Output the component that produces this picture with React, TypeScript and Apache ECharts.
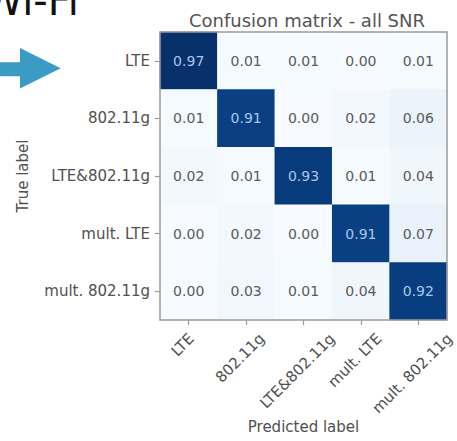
import React, { useEffect, useRef } from "react";
import * as echarts from "echarts";

const categories = ["LTE", "802.11g", "LTE&802.11g", "mult. LTE", "mult. 802.11g"];
const rowLTE = [0.97, 0.01, 0.01, 0.0, 0.01];
const row80211g = [0.01, 0.91, 0.0, 0.02, 0.06];
const rowLTE80211g = [0.02, 0.01, 0.93, 0.01, 0.04];
const rowMultLTE = [0.0, 0.02, 0.0, 0.91, 0.07];
const rowMult80211g = [0.0, 0.03, 0.01, 0.04, 0.92];
const rows = [rowLTE, row80211g, rowLTE80211g, rowMultLTE, rowMult80211g];

const BLUES = ["#f7fbff", "#deebf7", "#c6dbef", "#9ecae1", "#6baed6", "#4292c6", "#2171b5", "#08519c", "#08306b"];
const FONT = "DejaVu Sans";
const LABEL_SIZE = 15;
const TEXT_GRAY = "#505050";

function measure(t: string, size: number): number {
  const ctx = document.createElement("canvas").getContext("2d");
  if (!ctx) return t.length * size * 0.6;
  ctx.font = `${size}px "${FONT}"`;
  return ctx.measureText(t).width;
}

export default function App() {
  const ref = useRef<HTMLDivElement>(null);
  useEffect(() => {
    if (!ref.current) return;
    const chart = echarts.init(ref.current, undefined, { renderer: "svg" });
    const data: number[][] = [];
    rows.forEach((r, yi) => r.forEach((v, xi) => data.push([xi, yi, v])));
    const maxV = Math.max(...data.map((d) => d[2]));

    const rich: Record<string, any> = {};
    categories.forEach((c, i) => {
      const w = measure(c, LABEL_SIZE);
      const q = (w + LABEL_SIZE * 1.15) / 2;
      rich["l" + i] = {
        fontSize: LABEL_SIZE,
        fontFamily: FONT,
        color: TEXT_GRAY,
        padding: [q - 8.5, q + 8.5, 0, 0],
      };
    });

    chart.setOption({
      animation: false,
      backgroundColor: "#ffffff",
      title: {
        text: "Confusion matrix - all SNR",
        left: 302,
        top: 6,
        textAlign: "center",
        textStyle: { fontFamily: FONT, fontSize: 18, fontWeight: "normal", color: "#555" },
      },
      grid: {
        left: 160,
        top: 32,
        right: 10,
        bottom: 121,
        show: true,
        z: 10,
        backgroundColor: "transparent",
        borderColor: "#9a9a9a",
        borderWidth: 1.5,
        outerBoundsMode: "none",
      },
      visualMap: {
        show: false,
        min: 0,
        max: maxV,
        inRange: { color: BLUES },
      },
      xAxis: {
        type: "category",
        data: categories,
        name: "Predicted label",
        nameLocation: "middle",
        nameGap: 99,
        nameMoveOverlap: false,
        nameTextStyle: { fontFamily: FONT, fontSize: LABEL_SIZE, color: TEXT_GRAY },
        axisLine: { show: false },
        axisTick: { show: true, alignWithLabel: true, length: 5, lineStyle: { color: "#9a9a9a", width: 1.2 } },
        splitLine: { show: false },
        axisLabel: {
          interval: 0,
          rotate: 45,
          align: "center",
          verticalAlign: "middle",
          margin: 10,
          formatter: (v: string, i: number) => `{l${i}|${v}}`,
          rich,
        },
      },
      yAxis: {
        type: "category",
        data: categories,
        inverse: true,
        name: "True label",
        nameLocation: "middle",
        nameGap: 130,
        nameMoveOverlap: false,
        nameTextStyle: { fontFamily: FONT, fontSize: LABEL_SIZE, color: TEXT_GRAY },
        axisLine: { show: false },
        axisTick: { show: true, alignWithLabel: true, length: 5, lineStyle: { color: "#9a9a9a", width: 1.2 } },
        splitLine: { show: false },
        axisLabel: {
          interval: 0,
          margin: 10,
          fontFamily: FONT,
          fontSize: LABEL_SIZE,
          color: TEXT_GRAY,
        },
      },
      graphic: [
        {
          type: "text",
          x: -16.5,
          y: 1,
          style: {
            text: "Wi-Fi",
            font: `40px "${FONT}"`,
            fill: "#111111",
            verticalAlign: "middle",
            align: "left",
          },
        },
        {
          type: "polygon",
          shape: {
            points: [
              [-2, 62.3],
              [20, 62.3],
              [20, 48],
              [60.7, 68.2],
              [20, 88.5],
              [20, 76.3],
              [-2, 76.3],
            ],
          },
          style: { fill: "#3c9bc4" },
        },
      ],
      series: [
        {
          type: "heatmap",
          data,
          itemStyle: { borderWidth: 0 },
          label: {
            show: true,
            formatter: (p: any) => {
              const v = p.value[2] as number;
              return v > maxV / 2 ? `{w|${v.toFixed(2)}}` : `{d|${v.toFixed(2)}}`;
            },
            rich: {
              w: { fontFamily: FONT, fontSize: 14, color: "#a9c6e8" },
              d: { fontFamily: FONT, fontSize: 14, color: "#5a5a5a" },
            },
          },
          emphasis: { disabled: true },
        },
      ],
    });
    return () => chart.dispose();
  }, []);
  return <div ref={ref} style={{ position: "fixed", left: 0, top: 0, width: 457, height: 441 }} />;
}
